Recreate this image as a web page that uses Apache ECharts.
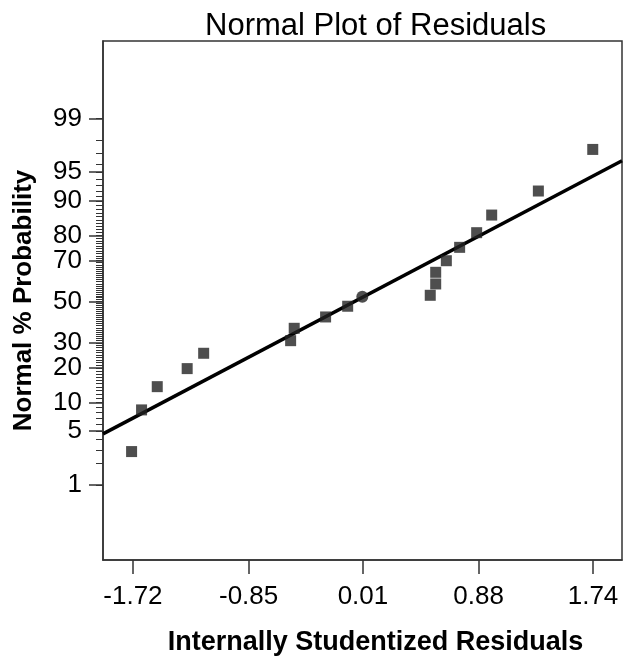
<!DOCTYPE html>
<html>
<head>
<meta charset="utf-8">
<script src="https://cdn.jsdelivr.net/npm/echarts@6/dist/echarts.min.js"></script>
<style>
html,body{margin:0;padding:0;background:#fff;}
#chart{width:642px;height:666px;}
</style>
</head>
<body>
<div id="chart"></div>
<script>
// ---- data ----
const residuals     = [-1.73, -1.655, -1.537, -1.312, -1.188, -0.534, -0.507, -0.271, -0.105, 0.516, 0.557, 0.557, 0.637, 0.737, 0.865, 0.978, 1.329, 1.738];
const probabilities = [2.85, 8.47, 14.03, 19.77, 25.62, 31.03, 36.77, 42.31, 47.69, 53.23, 58.90, 64.54, 69.85, 75.49, 80.95, 86.43, 92.00, 97.34];
const highlightResidual = [0.005];
const highlightProbability = [52.51];
const fitResiduals = [-1.945, 1.958];
const fitProbabilities = [4.66, 96.32];
const xTickLabels = [-1.72, -0.85, 0.01, 0.88, 1.74];
const yTickLabels = [1, 5, 10, 20, 30, 50, 70, 80, 90, 95, 99];
const yMinorTicks = Array.from({length: 99}, (_, i) => i + 1);

// inverse normal CDF (probability scale)
function probit(p){
  const a=[-3.969683028665376e+01,2.209460984245205e+02,-2.759285104469687e+02,1.383577518672690e+02,-3.066479806614716e+01,2.506628277459239e+00];
  const b=[-5.447609879822406e+01,1.615858368580409e+02,-1.556989798598866e+02,6.680131188771972e+01,-1.328068155022803e+01];
  const c=[-7.784894002430293e-03,-3.223964580411365e-01,-2.400758277161838e+00,-2.549732539343734e+00,4.374664141464968e+00,2.938163982698783e+00];
  const d=[7.784695709041462e-03,3.224671290700398e-01,2.445134137142996e+00,3.754408661907416e+00];
  const pl=0.02425, ph=1-pl; let q,r;
  if(p<pl){q=Math.sqrt(-2*Math.log(p));return (((((c[0]*q+c[1])*q+c[2])*q+c[3])*q+c[4])*q+c[5])/((((d[0]*q+d[1])*q+d[2])*q+d[3])*q+1);}
  if(p<=ph){q=p-0.5;r=q*q;return (((((a[0]*r+a[1])*r+a[2])*r+a[3])*r+a[4])*r+a[5])*q/(((((b[0]*r+b[1])*r+b[2])*r+b[3])*r+b[4])*r+1);}
  q=Math.sqrt(-2*Math.log(1-p));return -(((((c[0]*q+c[1])*q+c[2])*q+c[3])*q+c[4])*q+c[5])/((((d[0]*q+d[1])*q+d[2])*q+d[3])*q+1);
}
const z = pct => probit(pct/100);

const yTickZ = yTickLabels.map(z);
const yMinorZ = yMinorTicks.map(z);
function yLabelFor(v){
  let best = 0, bd = Infinity;
  yTickZ.forEach((t,i)=>{const dd=Math.abs(t-v); if(dd<bd){bd=dd;best=i;}});
  return String(yTickLabels[best]);
}

const pts = residuals.map((r,i)=>[r, z(probabilities[i])]);
const hl = highlightResidual.map((r,i)=>[r, z(highlightProbability[i])]);
const fit = fitResiduals.map((r,i)=>[r, z(fitProbabilities[i])]);

const FONT = 'Liberation Sans';
const AX = '#333';
const chart = echarts.init(document.getElementById('chart'), null, {renderer:'canvas'});
chart.setOption({
  animation:false,
  backgroundColor:'#fff',
  title:{
    text:'Normal Plot of Residuals', left:200, top:6,
    textStyle:{fontFamily:FONT, fontSize:31, fontWeight:'normal', color:'#000'}
  },
  grid:{left:103, right:20, top:41, bottom:106, show:true, borderColor:AX, borderWidth:1.5, backgroundColor:'transparent'},
  xAxis:{
    type:'value', min:-1.945, max:1.958,
    name:'Internally Studentized Residuals', nameLocation:'middle', nameGap:69,
    nameTextStyle:{fontFamily:FONT, fontSize:27, fontWeight:'bold', color:'#000', padding:[0,0,0,26]},
    axisLine:{show:true, onZero:false, lineStyle:{color:AX, width:1.5}},
    axisTick:{show:true, length:14, customValues:xTickLabels, lineStyle:{color:AX, width:1.5}},
    axisLabel:{customValues:xTickLabels, margin:24, fontFamily:FONT, fontSize:26, color:'#000',
      formatter:v=>{const i=xTickLabels.indexOf(v); return i>=0? xTickLabels[i].toFixed(2): v.toFixed(2);}},
    splitLine:{show:false}
  },
  yAxis:[{
    type:'value', min:-3.28, max:3.31,
    name:'Normal % Probability', nameLocation:'middle', nameGap:66, nameRotate:90,
    nameTextStyle:{fontFamily:FONT, fontSize:26, fontWeight:'bold', color:'#000'},
    axisLine:{show:true, onZero:false, lineStyle:{color:AX, width:1.5}},
    axisTick:{show:true, length:14, customValues:yTickZ, lineStyle:{color:AX, width:1.5}},
    axisLabel:{customValues:yTickZ, margin:21, fontFamily:FONT, fontSize:26, color:'#000', formatter:yLabelFor},
    splitLine:{show:false}
  },{
    type:'value', min:-3.28, max:3.31, position:'left',
    axisLine:{show:false, onZero:false},
    axisTick:{show:true, length:7, customValues:yMinorZ, lineStyle:{color:AX, width:1}},
    axisLabel:{show:false},
    splitLine:{show:false}
  }],
  series:[{
    type:'line', data:fit, yAxisIndex:0, symbol:'none', silent:true,
    lineStyle:{color:'#000', width:3.5}, z:2
  },{
    type:'scatter', data:pts, yAxisIndex:0, symbol:'rect', symbolSize:11,
    itemStyle:{color:'#222'}, z:3
  },{
    type:'scatter', data:hl, yAxisIndex:0, symbol:'circle', symbolSize:12,
    itemStyle:{color:'#222'}, z:3
  }]
});
</script>
</body>
</html>
